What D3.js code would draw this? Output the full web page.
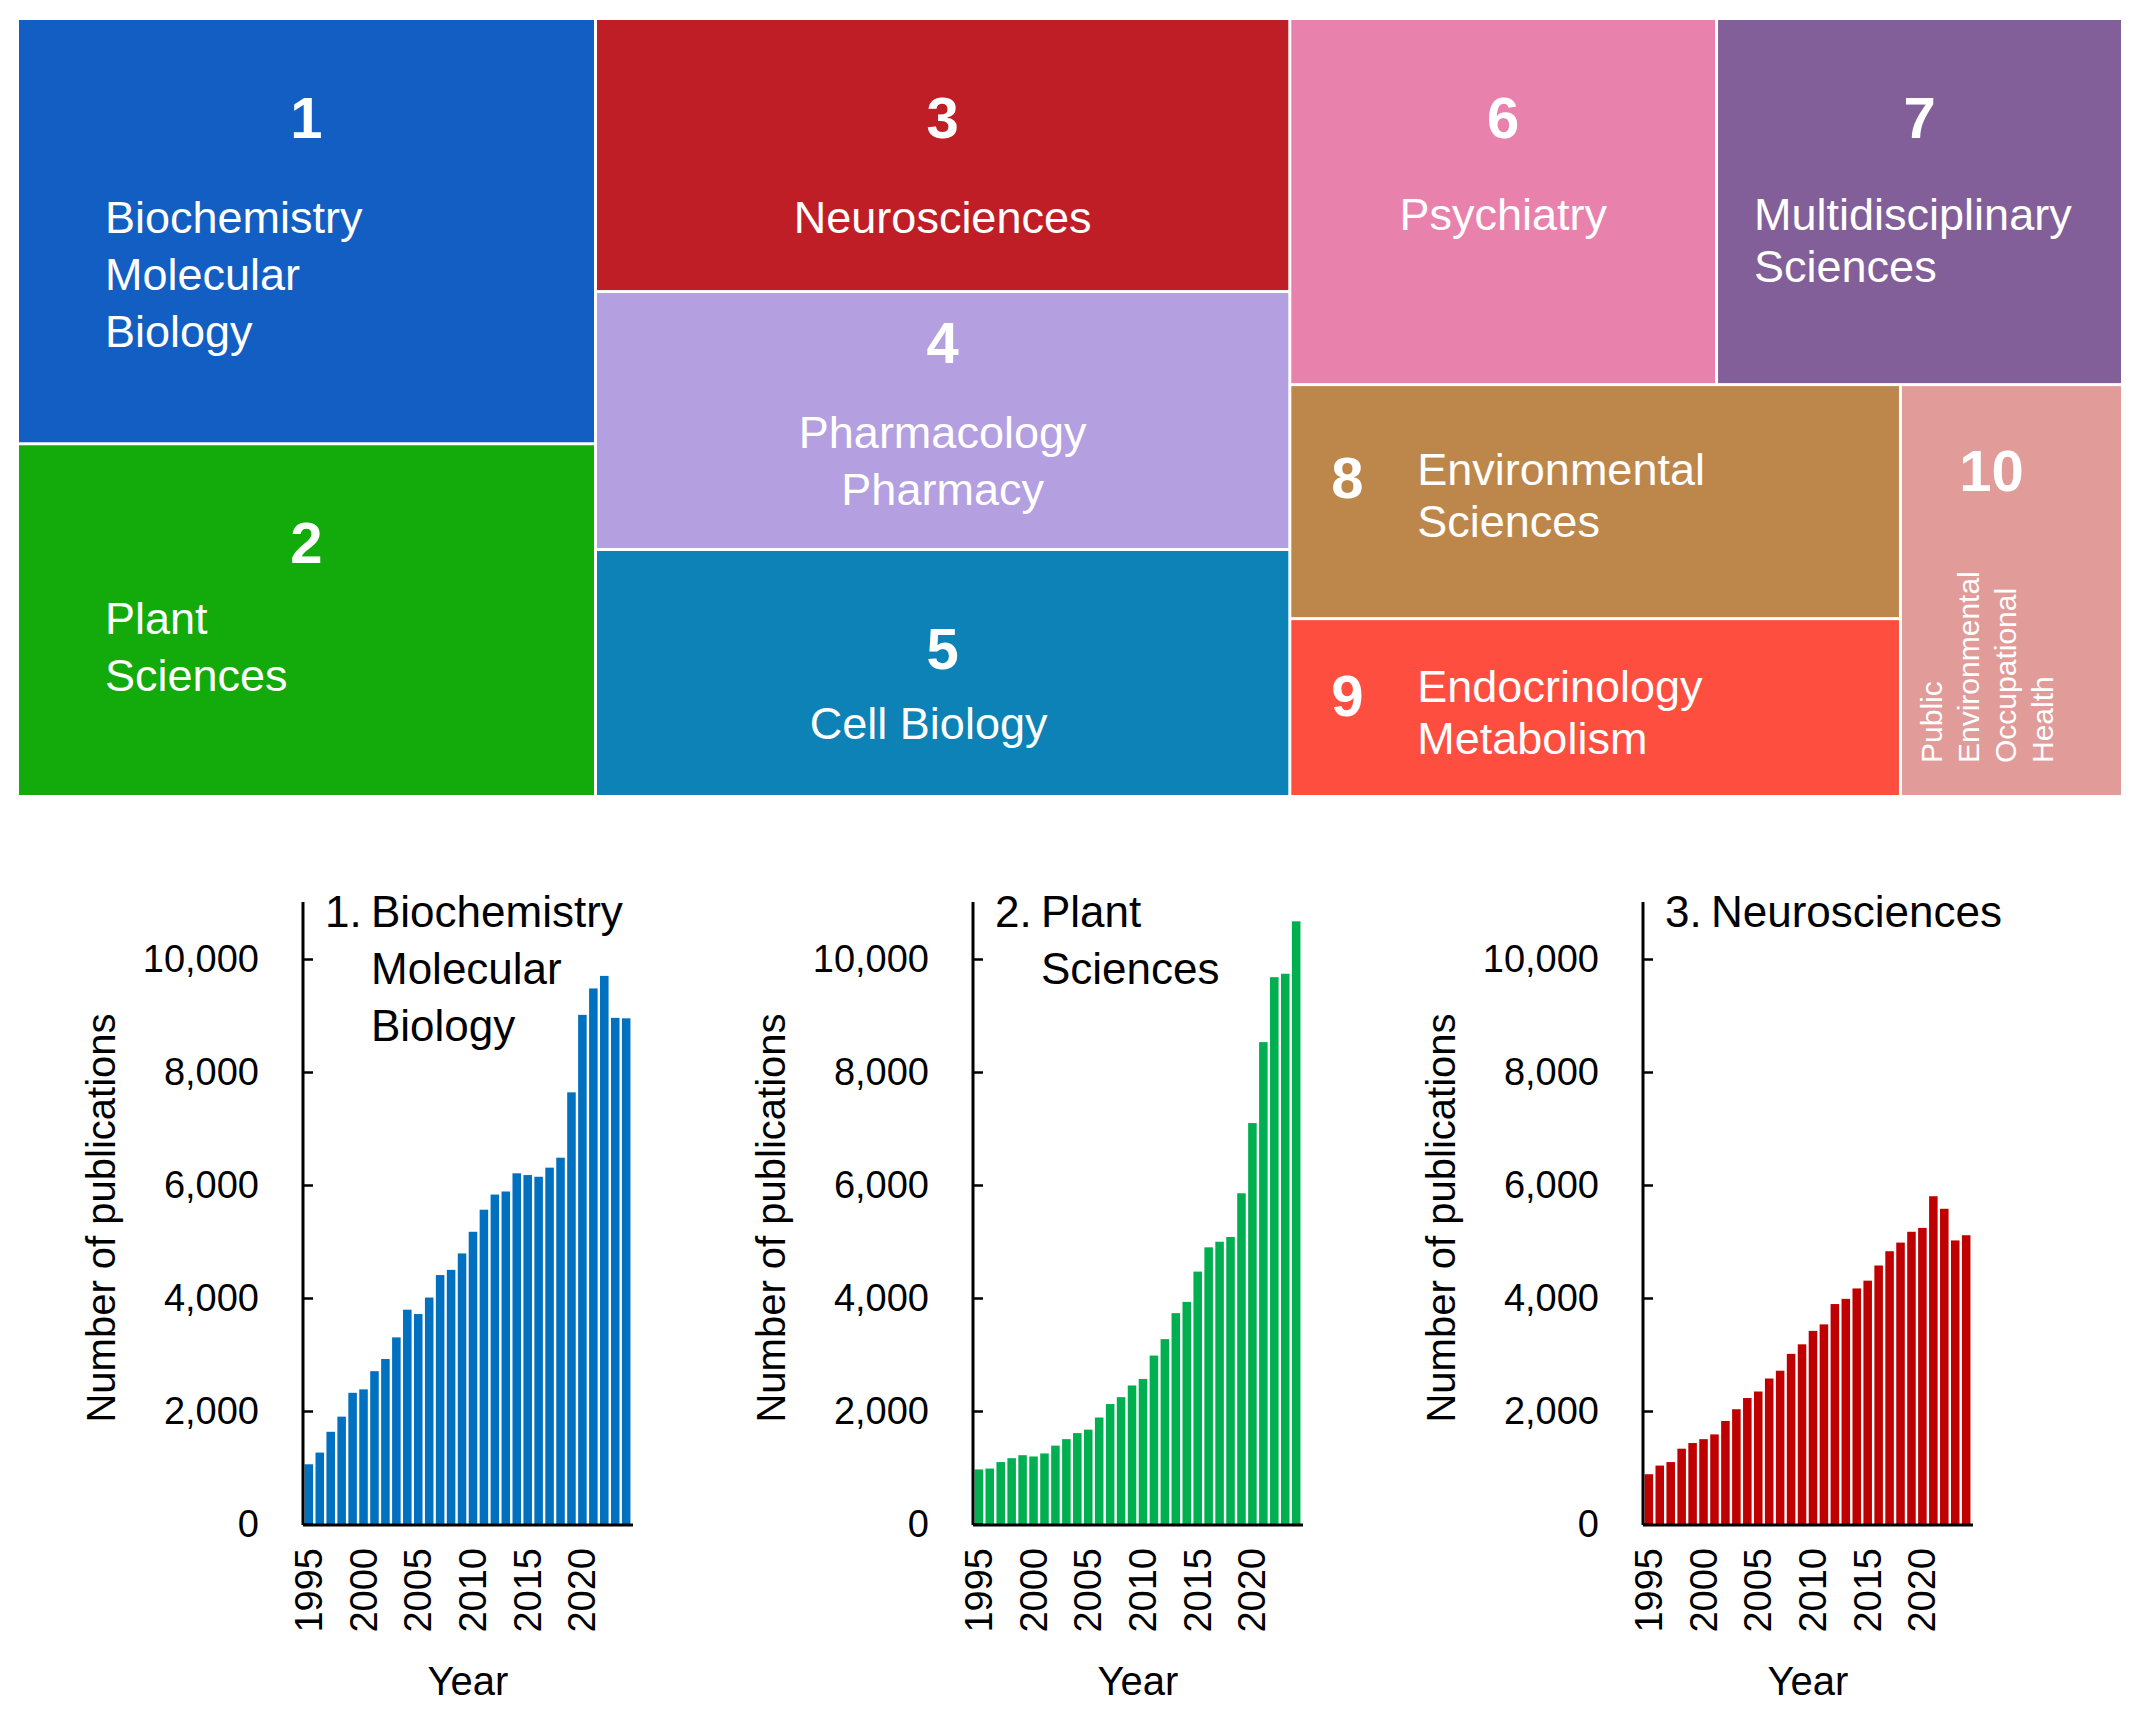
<!DOCTYPE html>
<html><head><meta charset="utf-8">
<script src="https://cdn.jsdelivr.net/npm/d3@7"></script>
<style>body{margin:0;background:#fff}svg{font-family:Arial,"Liberation Sans",sans-serif}</style>
</head><body><svg id="c" width="2142" height="1720"></svg>
<script>
const years = d3.range(1995, 2025);
const yearTicks = [1995, 2000, 2005, 2010, 2015, 2020];
const yTicks = [0, 2000, 4000, 6000, 8000, 10000];
const bioValues = [1057,1264,1632,1900,2322,2383,2705,2920,3303,3793,3716,4008,4406,4498,4789,5172,5563,5831,5885,6207,6176,6146,6307,6483,7640,9011,9479,9701,8958,8950];
const plantValues = [966,981,1096,1165,1218,1195,1249,1387,1502,1609,1670,1885,2123,2245,2452,2567,2981,3272,3732,3931,4467,4897,4996,5080,5854,7096,8529,9678,9739,10667];
const neuroValues = [881,1034,1096,1333,1433,1502,1586,1824,2031,2230,2345,2575,2713,3011,3180,3418,3533,3893,3985,4169,4307,4575,4828,4981,5172,5241,5801,5579,5019,5111];
const catIds = [1,2,3,4,5,6,7,8,9,10];
const catNames = [["Biochemistry","Molecular","Biology"],["Plant","Sciences"],["Neurosciences"],["Pharmacology","Pharmacy"],["Cell Biology"],["Psychiatry"],["Multidisciplinary","Sciences"],["Environmental","Sciences"],["Endocrinology","Metabolism"],["Public","Environmental","Occupational","Health"]];
const catAreas = [129,107,99.5,94,90,82,78,75,57,48];
const catColors = ["#125ec2","#13aa0b","#c01e26","#b49fe0","#0c82b6","#e882ac","#825f99","#bd874c","#fe4e40","#e19c9a"];

const svg = d3.select("#c");
const leaf = i => ({i, value: catAreas[i]});
const tree = {dir:"dice", children:[
  {dir:"slice", children:[leaf(0),leaf(1)]},
  {dir:"slice", children:[leaf(2),leaf(3),leaf(4)]},
  {dir:"slice", children:[
    {dir:"dice", children:[leaf(5),leaf(6)]},
    {dir:"dice", children:[{dir:"slice", children:[leaf(7),leaf(8)]}, leaf(9)]}
  ]}
]};
const root = d3.hierarchy(tree).sum(d => d.value || 0);
d3.treemap().size([2102, 775]).paddingInner(3)
  .tile((node,x0,y0,x1,y1) => (node.data.dir==="dice"?d3.treemapDice:d3.treemapSlice)(node,x0,y0,x1,y1))(root);
const g = svg.append("g").attr("transform","translate(19,20)");
const cells = g.selectAll("g").data(root.leaves()).join("g");
cells.append("rect").attr("x",d=>d.x0).attr("y",d=>d.y0).attr("width",d=>d.x1-d.x0).attr("height",d=>d.y1-d.y0)
  .attr("fill",d=>catColors[d.data.i]);
cells.each(function(d){
  const i=d.data.i, s=d3.select(this), cx=(d.x0+d.x1)/2;
  const num=(x,y,a)=>s.append("text").attr("x",x).attr("y",y).attr("text-anchor",a||"middle").attr("fill","#fff").attr("font-weight","bold").attr("font-size",58).text(catIds[i]);
  const lines=(x,y,a,lh)=>catNames[i].forEach((t,k)=>s.append("text").attr("x",x).attr("y",y+k*lh).attr("text-anchor",a).attr("fill","#fff").attr("font-size",45).text(t));
  if(i===0){num(cx,d.y0+118);lines(d.x0+86,d.y0+213,"start",57);}
  else if(i===1){num(cx,d.y0+118);lines(d.x0+86,d.y0+189,"start",57);}
  else if(i===2){num(cx,d.y0+118);lines(cx,d.y0+213,"middle",57);}
  else if(i===3){num(cx,d.y0+70);lines(cx,d.y0+155,"middle",57);}
  else if(i===4){num(cx,d.y0+118);lines(cx-14,d.y0+188,"middle",57);}
  else if(i===5){num(cx,d.y0+118);lines(cx,d.y0+210,"middle",52);}
  else if(i===6){num(cx,d.y0+118);lines(d.x0+36,d.y0+210,"start",52);}
  else if(i===7){num(d.x0+56,d.y0+112,"middle");lines(d.x0+126,d.y0+99,"start",52);}
  else if(i===8){num(d.x0+56,d.y0+96,"middle");lines(d.x0+126,d.y0+82,"start",52);}
  else {num(cx-20,d.y0+105);
    catNames[i].forEach((t,k)=>s.append("text").attr("transform",`translate(${d.x0+40+k*37},${d.y1-32}) rotate(-90)`).attr("fill","#fff").attr("font-size",30).text(t));}
});

const panels = [
  {vals: bioValues, color:"#0070c0", ax:303, title:["1.","Biochemistry","Molecular","Biology"]},
  {vals: plantValues, color:"#00b050", ax:973, title:["2.","Plant","Sciences"]},
  {vals: neuroValues, color:"#c00000", ax:1643, title:["3.","Neurosciences"]}
];
const y = d3.scaleLinear().domain([0,10000]).range([1524,959]);
panels.forEach(p=>{
  const x = d3.scaleBand().domain(years).range([p.ax+1, p.ax+328]).paddingInner(0.22).paddingOuter(0.05);
  const pg = svg.append("g");
  pg.selectAll("rect").data(p.vals).join("rect").attr("x",(v,k)=>x(years[k])).attr("width",x.bandwidth())
    .attr("y",v=>y(v)).attr("height",v=>y(0)-y(v)).attr("fill",p.color);
  const ya = pg.append("g").attr("transform",`translate(${p.ax},0)`).call(d3.axisLeft(y).tickValues(yTicks).tickSize(-10).tickPadding(44).tickFormat(d3.format(",")));
  ya.select(".domain").remove();
  ya.selectAll("line").attr("stroke","#000").attr("stroke-width",2.5);
  ya.selectAll("text").attr("font-size",38).attr("fill","#000").attr("font-family","Arial,'Liberation Sans',sans-serif");
  pg.append("line").attr("x1",p.ax).attr("x2",p.ax).attr("y1",902).attr("y2",1525).attr("stroke","#000").attr("stroke-width",3);
  pg.append("line").attr("x1",p.ax).attr("x2",p.ax+330).attr("y1",1525).attr("y2",1525).attr("stroke","#000").attr("stroke-width",3);
  yearTicks.forEach(t=>pg.append("text").attr("transform",`translate(${x(t)+x.bandwidth()/2+13},1548) rotate(-90)`).attr("text-anchor","end").attr("font-size",38).text(t));
  pg.append("text").attr("x",p.ax+165).attr("y",1695).attr("text-anchor","middle").attr("font-size",40).text("Year");
  pg.append("text").attr("transform",`translate(${p.ax-188},1218) rotate(-90)`).attr("text-anchor","middle").attr("font-size",40).text("Number of publications");
  pg.append("text").attr("x",p.ax+22).attr("y",927).attr("font-size",44).text(p.title[0]);
  p.title.slice(1).forEach((t,k)=>pg.append("text").attr("x",p.ax+68).attr("y",927+k*57).attr("font-size",44).text(t));
});
</script></body></html>
